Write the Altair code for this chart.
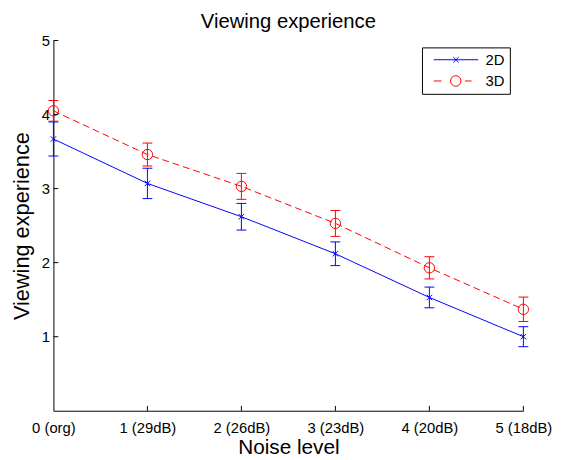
import json
import pandas as pd
import altair as alt

# ---- data ----
levels = [0, 1, 2, 3, 4, 5]
x_tick_labels = ["0 (org)", "1 (29dB)", "2 (26dB)", "3 (23dB)", "4 (20dB)", "5 (18dB)"]
y_tick_values = [1, 2, 3, 4, 5]
series_names = ["2D", "3D"]
series_colors = ["#0000ff", "#ff0000"]
mean_2d = [3.67, 3.07, 2.62, 2.12, 1.53, 1.00]
err_2d = [0.23, 0.205, 0.18, 0.16, 0.14, 0.135]
mean_3d = [4.05, 3.46, 3.03, 2.53, 1.93, 1.37]
err_3d = [0.14, 0.155, 0.175, 0.175, 0.15, 0.165]

FONT = "Liberation Sans"
W, H = 476, 375

rows = []
for name, means, errs in [("2D", mean_2d, err_2d), ("3D", mean_3d, err_3d)]:
    for lv, m, e in zip(levels, means, errs):
        rows.append({"level": lv, "series": name, "mean": m, "lo": m - e, "hi": m + e})
df = pd.DataFrame(rows)
xticks_df = pd.DataFrame({"t": levels[1:]})
yticks_df = pd.DataFrame({"t": y_tick_values})

x_scale = alt.Scale(domain=[0, 5], nice=False, zero=False)
y_scale = alt.Scale(domain=[0, 5], nice=False, zero=False)

x_axis = alt.Axis(values=levels, labelExpr=json.dumps(x_tick_labels) + "[datum.value]",
                  title="Noise level", ticks=False, labelPadding=10, titlePadding=1.5,
                  grid=False, labelFlush=False, labelOverlap=False,
                  labelFontSize=15, titleFontSize=21)
y_axis = alt.Axis(values=y_tick_values, title="Viewing experience", ticks=False,
                  labelPadding=4, titlePadding=8, grid=False,
                  labelFontSize=15, titleFontSize=22)


def X(f):
    return alt.X(f, scale=x_scale, axis=x_axis)


def Y(f):
    return alt.Y(f, scale=y_scale, axis=y_axis)


def color_scale():
    return alt.Scale(domain=series_names, range=series_colors)


def color_nl():
    return alt.Color("series:N", scale=color_scale(), legend=None)


base = alt.Chart(df)

errbars = base.mark_rule(strokeWidth=1).encode(
    x=X("level:Q"), y=Y("lo:Q"), y2="hi:Q", color=color_nl())

caps = base.transform_fold(["lo", "hi"], as_=["end", "val"]).mark_tick(
    orient="horizontal", size=10, thickness=1, opacity=1).encode(
    x=X("level:Q"), y=Y("val:Q"), color=color_nl())

line_2d = base.transform_filter("datum.series == '2D'").mark_line(strokeWidth=1).encode(
    x=X("level:Q"), y=Y("mean:Q"), color=color_nl())

line_3d = base.transform_filter("datum.series == '3D'").mark_line(
    strokeWidth=1, strokeDash=[7, 4]).encode(
    x=X("level:Q"), y=Y("mean:Q"), color=color_nl())

markers_2d = base.transform_filter("datum.series == '2D'").mark_point(
    shape="M-1,-1L1,1M-1,1L1,-1", size=30, filled=False, strokeWidth=1, opacity=1).encode(
    x=X("level:Q"), y=Y("mean:Q"), color=color_nl())

markers_3d = base.transform_filter("datum.series == '3D'").mark_point(
    shape="circle", size=110, filled=False, strokeWidth=1, opacity=1).encode(
    x=X("level:Q"), y=Y("mean:Q"), color=color_nl())

xticks = alt.Chart(xticks_df).mark_rule(color="black", strokeWidth=1).encode(
    x=X("t:Q"),
    y=alt.YDatum(0, scale=y_scale, axis=y_axis),
    y2=alt.Y2Datum(0.065))

yticks = alt.Chart(yticks_df).mark_rule(color="black", strokeWidth=1).encode(
    y=Y("t:Q"),
    x=alt.XDatum(0, scale=x_scale, axis=x_axis),
    x2=alt.X2Datum(0.052))

# legend symbols: line sample + marker, drawn to the right of the symbol column
legend_paths = [
    "M-0.13,0H9.87M4.27,-0.6L5.47,0.6M4.27,0.6L5.47,-0.6",
    "M-0.13,0H1.62M6.89,0H8.38M6.0,0A1.18,1.18,0,1,1,3.64,0A1.18,1.18,0,1,1,6.0,0",
]
leg = alt.Legend(title=None, orient="none", legendX=373.3, legendY=7, padding=5,
                 fillColor="white", strokeColor="black", rowPadding=5.5,
                 labelOffset=44.4, labelFontSize=15, labelFont=FONT,
                 labelColor="black", symbolStrokeWidth=1, symbolSize=81,
                 symbolFillColor="transparent", labelBaseline="middle")

# legend carrier: same points placed below the visible y range and clipped away
legend_layer = base.mark_point(
    filled=False, size=81, strokeWidth=1, opacity=1, clip=True).encode(
    x=X("level:Q"),
    y=alt.YDatum(-10, scale=y_scale, axis=y_axis),
    color=alt.Color("series:N", scale=color_scale(), legend=leg),
    shape=alt.Shape("series:N", scale=alt.Scale(domain=series_names, range=legend_paths),
                    legend=leg))

chart = alt.layer(errbars, caps, line_2d, line_3d, markers_2d, markers_3d, xticks, yticks,
                  legend_layer).resolve_scale(
    color="independent", shape="independent"
).properties(
    width=W, height=H,
    title=alt.TitleParams("Viewing experience", fontSize=20.5, font=FONT,
                          fontWeight="normal", color="black", offset=1.5, anchor="middle"),
    autosize=alt.AutoSizeParams(type="none"),
    padding={"left": 46, "top": 30, "right": 30, "bottom": 48},
).configure_view(stroke=None).configure_axis(
    domainColor="black", domainWidth=1, labelColor="black", titleColor="black",
    labelFont=FONT, titleFont=FONT, titleFontWeight="normal",
).configure_legend(strokeWidth=1, cornerRadius=0)

chart.save("out.html", embed_options={"renderer": "svg", "actions": False})
